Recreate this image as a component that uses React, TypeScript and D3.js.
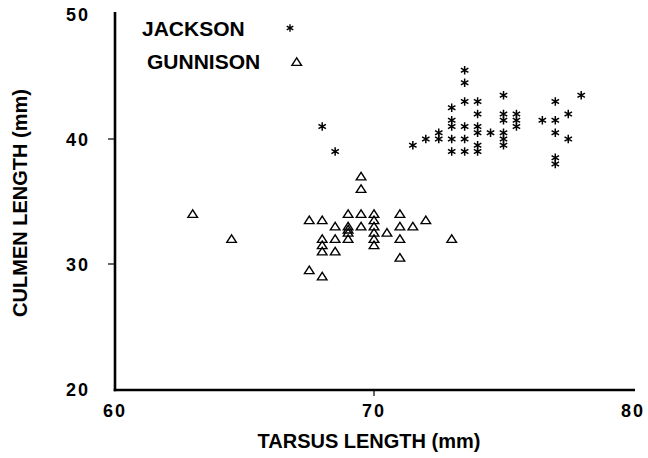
import React from "react";
import * as d3 from "d3";

// Jackson (asterisks): [tarsus, culmen]
const jacksonTarsus = [73.5, 73.5, 73, 73.5, 74, 75, 74, 75, 75.5, 73, 75, 75.5, 73, 73.5, 74, 75.5, 74, 74.5, 75, 72.5, 72.5, 72, 71.5, 73, 73.5, 75, 74, 75, 73, 73.5, 74, 78, 77, 77.5, 76.5, 77, 77, 77.5, 77, 77, 68, 68.5];
const jacksonCulmen = [45.5, 44.5, 42.5, 43, 43, 43.5, 42, 42, 42, 41.5, 41.5, 41.5, 41, 41, 41, 41, 40.5, 40.5, 40.5, 40.5, 40, 40, 39.5, 40, 40, 40, 39.5, 39.5, 39, 39, 39, 43.5, 43, 42, 41.5, 41.5, 40.5, 40, 38.5, 38, 41, 39];

// Gunnison (triangles)
const gunnisonTarsus = [63, 64.5, 67.5, 68, 67.5, 68, 68, 68, 68, 68.5, 68.5, 68.5, 69, 69, 69, 69, 69, 69.5, 69.5, 69.5, 69.5, 70, 70, 70, 70, 70, 70, 70.5, 71, 71, 71, 71, 71.5, 72, 73];
const gunnisonCulmen = [34, 32, 33.5, 33.5, 29.5, 29, 32, 31.5, 31, 33, 32, 31, 34, 33, 32.75, 32.5, 32, 37, 36, 34, 33, 34, 33.5, 33, 32.5, 32, 31.5, 32.5, 34, 33, 32, 30.5, 33, 33.5, 32];

const xTicks = [60, 70, 80];
const yTicks = [20, 30, 40, 50];
const xTickMarks = [70];
const yTickMarks = [30, 40];
const legendLabels = ["JACKSON", "GUNNISON"];

const W = 648;
const H = 458;
const FONT = "'Liberation Sans', Arial, Helvetica, sans-serif";

const x = d3.scaleLinear().domain([60, 80]).range([115, 633]);
const y = d3.scaleLinear().domain([20, 50]).range([389, 14]);

function asteriskPath(cx: number, cy: number, r: number) {
  const p = d3.path();
  [90, 30, 150].forEach((deg) => {
    const a = (deg * Math.PI) / 180;
    p.moveTo(cx - r * Math.cos(a), cy - r * Math.sin(a));
    p.lineTo(cx + r * Math.cos(a), cy + r * Math.sin(a));
  });
  return p.toString();
}

function trianglePath(cx: number, cy: number) {
  const p = d3.path();
  p.moveTo(cx, cy - 4.2);
  p.lineTo(cx - 4.8, cy + 3.4);
  p.lineTo(cx + 4.8, cy + 3.4);
  p.closePath();
  return p.toString();
}

export default function App() {
  const axisY = y(20) + 1;
  return (
    <svg
      width={W}
      height={H}
      viewBox={`0 0 ${W} ${H}`}
      style={{ position: "absolute", left: 0, top: 0, background: "#fff" }}
    >
      <rect x={0} y={0} width={W} height={H} fill="#fff" />
      {/* axes */}
      <line x1={x(60)} x2={x(60)} y1={12} y2={axisY + 1.2} stroke="#000" strokeWidth={2.6} />
      <line x1={x(60) - 1.3} x2={x(80) + 2} y1={axisY} y2={axisY} stroke="#000" strokeWidth={2.6} />
      {xTickMarks.map((t) => (
        <line key={"xt" + t} x1={x(t)} x2={x(t)} y1={axisY} y2={axisY + 6} stroke="#000" strokeWidth={1.2} />
      ))}
      {yTickMarks.map((t) => (
        <line key={"yt" + t} x1={x(60) - 7} x2={x(60)} y1={y(t)} y2={y(t)} stroke="#000" strokeWidth={1.2} />
      ))}
      {xTicks.map((t) => (
        <text
          key={"xl" + t}
          x={x(t)}
          y={417}
          textAnchor="middle"
          fontFamily={FONT}
          fontWeight="bold"
          fontSize={18}
          letterSpacing={2}
        >
          {t}
        </text>
      ))}
      {yTicks.map((t) => (
        <text
          key={"yl" + t}
          x={90}
          y={y(t) + 6.5}
          textAnchor="end"
          fontFamily={FONT}
          fontWeight="bold"
          fontSize={18}
          letterSpacing={2}
        >
          {t}
        </text>
      ))}
      <text
        x={369}
        y={448}
        textAnchor="middle"
        fontFamily={FONT}
        fontWeight="bold"
        fontSize={20}
      >
        TARSUS LENGTH (mm)
      </text>
      <text
        transform={`translate(27, 203) rotate(-90)`}
        textAnchor="middle"
        fontFamily={FONT}
        fontWeight="bold"
        fontSize={20}
      >
        CULMEN LENGTH (mm)
      </text>
      {/* legend */}
      <text x={142} y={36} fontFamily={FONT} fontWeight="bold" fontSize={21}>
        {legendLabels[0]}
      </text>
      <text x={147} y={69} fontFamily={FONT} fontWeight="bold" fontSize={21}>
        {legendLabels[1]}
      </text>
      <path d={asteriskPath(290, 28, 3.8)} stroke="#000" strokeWidth={1.4} fill="none" />
      <path d={trianglePath(296.7, 62)} stroke="#000" strokeWidth={1.4} fill="none" />
      {/* data */}
      <g>
        {gunnisonTarsus.map((t, i) => (
          <path
            key={"g" + i}
            d={trianglePath(x(t), y(gunnisonCulmen[i]))}
            stroke="#000"
            strokeWidth={1.4}
            fill="none"
          />
        ))}
      </g>
      <g>
        {jacksonTarsus.map((t, i) => (
          <path
            key={"j" + i}
            d={asteriskPath(x(t), y(jacksonCulmen[i]), 4.3)}
            stroke="#000"
            strokeWidth={1.5}
            fill="none"
          />
        ))}
      </g>
    </svg>
  );
}
